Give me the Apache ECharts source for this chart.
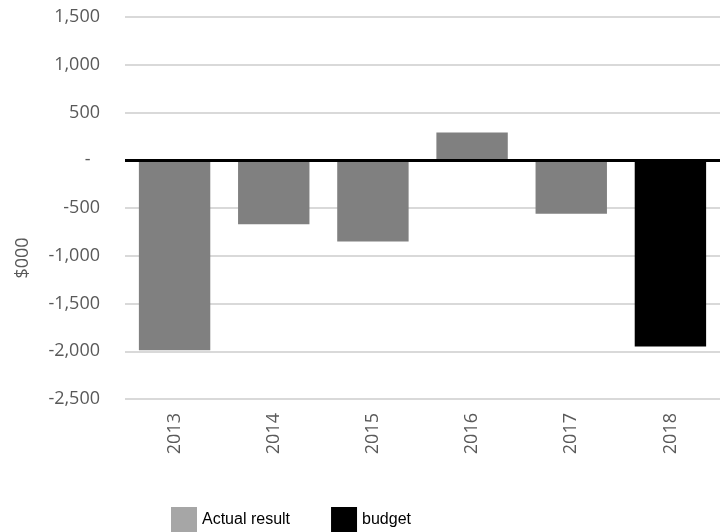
<!DOCTYPE html>
<html>
<head>
<meta charset="utf-8">
<script src="https://cdn.jsdelivr.net/npm/echarts@6/dist/echarts.min.js"></script>
<style>html,body{margin:0;padding:0;background:#fff}#c{width:720px;height:532px}</style>
</head>
<body>
<div id="c"></div>
<script>
const categories = ['2013', '2014', '2015', '2016', '2017', '2018'];
const actualResult = [-1990, -670, -850, 290, -560, null];
const budget = [null, null, null, null, null, -1950];
const yTicks = { min: -2500, max: 1500, interval: 500 };
const yAxisTitle = '$000';

const chart = echarts.init(document.getElementById('c'), null, { renderer: 'canvas' });
const labelColor = '#595959';
const font = "'Open Sans', sans-serif";
chart.setOption({
  animation: false,
  grid: { left: 125, top: 17, width: 602, height: 382 },
  legend: {
    left: 166, top: 502, itemWidth: 26, itemHeight: 26, itemGap: 41,
    icon: 'rect',
    textStyle: { color: '#000', fontSize: 16, fontFamily: "'Liberation Sans', Arial, sans-serif" },
    data: [
      { name: 'Actual result', itemStyle: { color: '#a6a6a6' } },
      { name: 'budget', itemStyle: { color: '#000000' } }
    ]
  },
  graphic: [{
    type: 'text', x: 23, y: 258, rotation: Math.PI / 2,
    style: { text: yAxisTitle, fill: labelColor, font: "18px 'Open Sans', sans-serif", align: 'center', verticalAlign: 'middle' }
  }],
  xAxis: {
    type: 'category', data: categories,
    axisLine: { show: false, onZero: false }, axisTick: { show: false },
    axisLabel: { rotate: 90, margin: 14, color: labelColor, fontSize: 18, fontFamily: font }
  },
  yAxis: {
    type: 'value', min: yTicks.min, max: yTicks.max, interval: yTicks.interval,
    axisLine: { show: false }, axisTick: { show: false },
    splitLine: { lineStyle: { color: '#d9d9d9', width: 2 } },
    axisLabel: {
      margin: 25, color: labelColor, fontSize: 18, fontFamily: font,
      formatter: v => v === 0 ? '-  ' : v.toLocaleString('en-US')
    }
  },
  series: [
    {
      name: 'Actual result', type: 'bar', data: actualResult, barWidth: '72%', barGap: '-100%',
      itemStyle: { color: '#808080' },
      markLine: {
        silent: true, symbol: 'none', label: { show: false },
        lineStyle: { color: '#000', width: 3, type: 'solid' },
        data: [{ yAxis: 0 }]
      }
    },
    {
      name: 'budget', type: 'bar', data: budget, barWidth: '72%', barGap: '-100%',
      itemStyle: { color: '#000000' }
    }
  ]
});
</script>
</body>
</html>
